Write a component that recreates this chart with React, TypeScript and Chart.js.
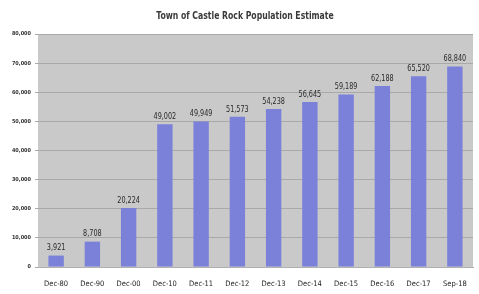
import React, { useEffect, useRef } from "react";
import { Chart, registerables } from "chart.js";

Chart.register(...registerables);

const TITLE = "Town of Castle Rock Population Estimate";
const categories = ["Dec-80", "Dec-90", "Dec-00", "Dec-10", "Dec-11", "Dec-12", "Dec-13", "Dec-14", "Dec-15", "Dec-16", "Dec-17", "Sep-18"];
const population = [3921, 8708, 20224, 49002, 49949, 51573, 54238, 56645, 59189, 62188, 65520, 68840];
const yMax = 80000;
const yStep = 10000;

const FONT = "'DejaVu Sans Condensed', 'DejaVu Sans', sans-serif";

const fmt = (v: number) => v.toLocaleString("en-US");

function squeezeText(ctx: CanvasRenderingContext2D, text: string, x: number, y: number, sx: number) {
  ctx.save();
  ctx.translate(x, y);
  ctx.scale(sx, 1);
  ctx.fillText(text, 0, 0);
  ctx.restore();
}

const decorPlugin = {
  id: "decor",
  beforeDraw(chart: any) {
    const { ctx, chartArea } = chart;
    ctx.save();
    ctx.fillStyle = "#ffffff";
    ctx.fillRect(0, 0, chart.width, chart.height);
    ctx.fillStyle = "#c9c9c9";
    ctx.fillRect(chartArea.left, chartArea.top, chartArea.right - chartArea.left, chartArea.bottom - chartArea.top);
    ctx.restore();
  },
  afterDraw(chart: any) {
    const { ctx } = chart;
    ctx.save();
    ctx.fillStyle = "#3a3a3a";
    ctx.font = `bold 11px ${FONT}`;
    ctx.textAlign = "center";
    ctx.textBaseline = "middle";
    squeezeText(ctx, TITLE, 245, 16, 0.78);
    const meta = chart.getDatasetMeta(0);
    ctx.font = `9px ${FONT}`;
    ctx.fillStyle = "#2a2a2a";
    ctx.textBaseline = "bottom";
    meta.data.forEach((bar: any, i: number) => {
      squeezeText(ctx, fmt(population[i]), bar.x, bar.y - 3, 0.8);
    });
    ctx.restore();
  },
};

export default function App() {
  const ref = useRef<HTMLCanvasElement>(null);
  useEffect(() => {
    document.body.style.margin = "0";
    const chart = new Chart(ref.current as HTMLCanvasElement, {
      type: "bar",
      data: {
        labels: categories,
        datasets: [
          {
            data: population,
            backgroundColor: "#7b80d8",
            borderWidth: 0,
            categoryPercentage: 0.85,
            barPercentage: 0.5,
          },
        ],
      },
      options: {
        animation: false,
        responsive: false,
        devicePixelRatio: 1,
        layout: { padding: { left: 0, right: 6, top: 34, bottom: 0 } },
        plugins: { legend: { display: false }, tooltip: { enabled: false }, title: { display: false } },
        scales: {
          x: {
            grid: { display: false },
            border: { display: true, color: "#b0b0b0" },
            ticks: { color: "#222", font: { family: FONT, size: 7.5 }, maxRotation: 0, padding: 5 },
            afterFit: (s: any) => { s.height = 27; },
          },
          y: {
            min: 0,
            max: yMax,
            ticks: { stepSize: yStep, color: "#333", font: { family: FONT, size: 5.5, weight: "bold" }, padding: 4, callback: (v: any) => fmt(Number(v)) },
            grid: { color: "#a9a9a9", lineWidth: 1, drawTicks: true, tickLength: 3 },
            border: { display: false },
            afterFit: (s: any) => { s.width = 38; },
          },
        },
      },
      plugins: [decorPlugin],
    });
    return () => chart.destroy();
  }, []);
  return (
    <div style={{ position: "absolute", left: 0, top: 0, width: 479, height: 294 }}>
      <canvas ref={ref} width={479} height={294} style={{ width: 479, height: 294 }} />
    </div>
  );
}
